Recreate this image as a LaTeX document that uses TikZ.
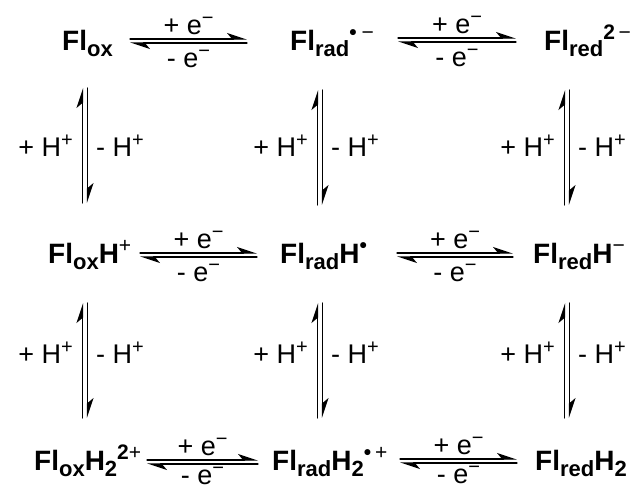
\documentclass[tikz,border=0pt]{standalone}
\usepackage{fontspec}
\setmainfont{Liberation Sans}
\usetikzlibrary{arrows.meta}
\newcommand\lo[1]{\raisebox{-6.5pt}{\fontsize{22}{22}\selectfont#1}}
\newcommand\hi[1]{\raisebox{11pt}{\fontsize{21}{21}\selectfont#1}}
\newcommand\up[1]{\raisebox{10pt}{\fontsize{20}{20}\selectfont#1}}
\tikzset{
  sp/.style={font=\fontsize{28}{31}\selectfont\bfseries,inner sep=0pt,anchor=base west},
  lb/.style={font=\fontsize{27}{30}\selectfont,inner sep=0pt},
  eq/.style={line width=1.3pt,-{Stealth[harpoon,length=18pt,width=12pt,inset=5pt]}},
  every picture/.style={line cap=round,line join=round}}

\begin{document}
\begin{tikzpicture}[x=1pt,y=-1pt]
  \useasboundingbox (0,0) rectangle (642,493);
  % species
  \node[sp] (ox1) at (62,50) {Fl\lo{ox}};
  \node[sp] (rad1) at (290,50) {Fl\lo{rad}\hi{•\hspace{5pt}\mdseries −}};
  \node[sp] (red1) at (544,50) {Fl\lo{red}\hi{2\,\mdseries −}};
  \node[sp] (ox2) at (48,263) {Fl\lo{ox}H\hi{\mdseries +}};
  \node[sp] (rad2) at (280,263) {Fl\lo{rad}H\hi{•}};
  \node[sp] (red2) at (533,263) {Fl\lo{red}H\hi{\mdseries −}};
  \node[sp] (ox3) at (34,470) {Fl\lo{ox}H\lo{2}\hi{2\mdseries +}};
  \node[sp] (rad3) at (272,470) {Fl\lo{rad}H\lo{2}\hi{•\hspace{4pt}\mdseries +}};
  \node[sp] (red3) at (535,470) {Fl\lo{red}H\lo{2}};
  % electron transfer
  \foreach \i/\xa/\xb/\y/\g in {1/130/247/41/6, 2/398/516/40/6, 3/140/257/255/6,
                                4/397/513/255/6, 5/147/258/462/2, 6/400/517/461/2}{
    \coordinate (hl\i) at (\xa,\y); \coordinate (hr\i) at (\xb,\y);
    \draw[eq] ([yshift=2pt]hl\i) -- node[lb,above=4pt] (pe\i) {+ e\up{−}} ([yshift=2pt]hr\i);
    \draw[eq] ([yshift=-2pt]hr\i) -- node[lb,below=\g pt] (me\i) {- e\up{−}} ([yshift=-2pt]hl\i);
  }
  % proton transfer
  \foreach \j/\x/\ya/\yb/\yl in {1/85/88/203/156, 2/320/90/205/156, 3/567/90/205/156,
                                 4/85/303/418/363, 5/320/303/418/363, 6/567/303/418/363}{
    \coordinate (vt\j) at (\x,\ya); \coordinate (vb\j) at (\x,\yb);
    \draw[eq] ([xshift=-2.5pt]vb\j) -- ([xshift=-2.5pt]vt\j);
    \draw[eq] ([xshift=2.5pt]vt\j) -- ([xshift=2.5pt]vb\j);
    \node[lb,anchor=base east] (ph\j) at (\x-12,\yl) {+ H\up{+}};
    \node[lb,anchor=base west] (mh\j) at (\x+11,\yl) {- H\up{+}};
  }
\end{tikzpicture}
\end{document}
